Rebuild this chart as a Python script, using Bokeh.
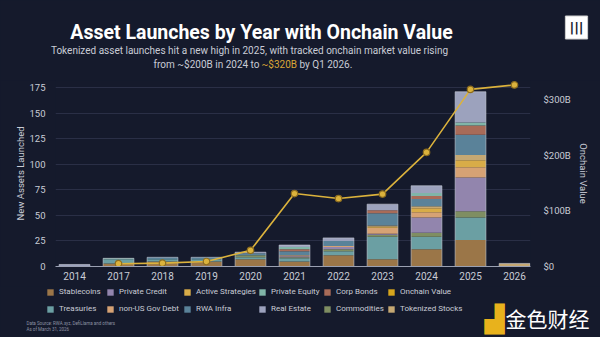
from bokeh.plotting import figure
from bokeh.layouts import column
from bokeh.models import (Range1d, LinearAxis, FixedTicker, Label, Legend,
                          LegendItem, ColumnDataSource)
from bokeh.embed import file_html
from bokeh.resources import INLINE

# ---- data -------------------------------------------------------------
years = ["2014", "2017", "2018", "2019", "2020", "2021", "2022", "2023", "2024", "2025", "2026"]

# new tokenized assets launched per year, by category (stack order bottom -> top)
stablecoins       = [0, 3, 5, 5, 7, 5, 11, 7, 17, 26, 0]
treasuries        = [0, 4, 2, 2, 2, 3, 4, 22, 12, 22, 0]
commodities       = [0, 0, 0, 0, 2, 1, 2, 2, 4, 6, 0]
private_credit    = [0, 0, 0, 0, 0, 1, 2, 1, 15, 33, 0]
non_us_gov_debt   = [0, 0, 0, 0, 0, 1, 1, 6, 5, 10, 0]
active_strategies = [0, 0, 0, 0, 0, 0, 0, 1, 4, 7, 0]
tokenized_stocks  = [0, 0, 0, 0, 0, 0, 0, 1, 2, 5, 3]
rwa_infra         = [0, 0, 2, 2, 2, 4, 5, 12, 7, 20, 0]
corp_bonds        = [0, 0, 0, 0, 0, 2, 0, 3, 3, 9, 0]
private_equity    = [0, 1, 0, 0, 0, 2, 0, 0, 3, 3, 0]
real_estate       = [2, 0, 0, 0, 1, 2, 3, 6, 7, 30, 0]

# tracked onchain market value, $B (series starts in 2017)
onchain_years = years[1:]
onchain_value_b = [5, 6, 9, 29, 131, 122, 130, 205, 318, 326]

left_ticks = [0, 25, 50, 75, 100, 125, 150, 175]
right_ticks = [0, 100, 200, 300]
right_tick_labels = ["$0", "$100B", "$200B", "$300B"]

series = [
    ("Stablecoins", stablecoins, "#9b7648"),
    ("Treasuries", treasuries, "#6b9fa3"),
    ("Commodities", commodities, "#7f8e62"),
    ("Private Credit", private_credit, "#9285ad"),
    ("non-US Gov Debt", non_us_gov_debt, "#d6a274"),
    ("Active Strategies", active_strategies, "#d8ac48"),
    ("Tokenized Stocks", tokenized_stocks, "#c5a873"),
    ("RWA Infra", rwa_infra, "#5a8299"),
    ("Corp Bonds", corp_bonds, "#a86b58"),
    ("Private Equity", private_equity, "#80b5a8"),
    ("Real Estate", real_estate, "#9ca2bd"),
]
onchain_color = "#d6a51c"
line_color = "#dbb23c"

# ---- styling constants ----------------------------------------------
BG = "#151a2c"
TXT = "#c9ccd6"
SANS = "Roboto"
W = 600
HEAD_H, MAIN_H, FOOT_H = 80, 206, 51


def panel(h):
    f = figure(width=W, height=h, output_backend="svg", toolbar_location=None,
               title=None, x_axis_type=None, y_axis_type=None,
               x_range=Range1d(0, W), y_range=Range1d(0, h),
               min_border=0, min_border_left=0, min_border_right=0,
               min_border_top=0, min_border_bottom=0)
    f.frame_align = False
    f.grid.visible = False
    f.background_fill_color = BG
    f.border_fill_color = BG
    f.outline_line_color = None
    return f


def text(f, h, s, cx, cy, size, color=TXT, font=SANS, align="left", style="normal", **kw):
    f.add_layout(Label(x=cx, y=h - cy, x_units="screen", y_units="screen",
                       text=s, text_font=font, text_font_size=size, text_color=color,
                       text_align=align, text_baseline="alphabetic",
                       text_font_style=style, **kw))


# ---- header -------------------------------------------------------------
head = panel(HEAD_H)
text(head, HEAD_H, "Asset Launches by Year with Onchain Value", 261, 32, "19.5px",
     color="#ffffff", align="center", style="bold")
text(head, HEAD_H,
     "Tokenized asset launches hit a new high in 2025, with tracked onchain market value rising",
     249, 50, "10px", align="center")
text(head, HEAD_H, "from ~$200B in 2024 to", 153, 64, "10px")
text(head, HEAD_H, "~$320B", 261, 64, "10px", color="#d9a637")
text(head, HEAD_H, "by Q1 2026.", 299, 64, "10px")
text(head, HEAD_H, "|||", 576, 27, "13px", color=BG, font="DejaVu Sans", align="center",
     style="bold", background_fill_color="#ffffff", border_line_color="#d0d0d0",
     padding=4)

# ---- chart --------------------------------------------------------------
xs = list(range(len(years)))
data = {"x": xs}
for name, vals, _ in series:
    data[name] = vals
data["total"] = [sum(v[i] for _, v, _ in series) for i in range(len(years))]
source = ColumnDataSource(data)

p = figure(width=W, height=MAIN_H, output_backend="svg", toolbar_location=None,
           x_range=Range1d(-0.432, 10.363), y_range=Range1d(0, 182),
           min_border_left=55, min_border_right=70, min_border_top=0,
           min_border_bottom=20)
p.background_fill_color = BG
p.border_fill_color = BG
p.outline_line_color = None

bar_w = 0.7
names = [s[0] for s in series]
p.vbar_stack(names, x="x", width=bar_w, color=[s[2] for s in series],
             line_color=None, source=source)
p.vbar(x="x", top="total", width=bar_w, source=source, fill_color=None,
       line_color="#cfd3de", line_alpha=0.55, line_width=1)

# onchain value line on a secondary axis
p.extra_y_ranges = {"value": Range1d(0, 334)}
ox = [years.index(y) for y in onchain_years]
p.line(ox, onchain_value_b, y_range_name="value", color=line_color, line_width=1.6)
p.scatter(ox, onchain_value_b, y_range_name="value", size=6.5,
          fill_color=line_color, line_color="#8d6d1f", line_width=1.2)

p.xaxis.ticker = FixedTicker(ticks=xs)
p.xaxis.major_label_overrides = {i: y for i, y in enumerate(years)}
p.xaxis.axis_line_color = "#9aa0b2"
p.xaxis.axis_line_width = 1.2
p.xaxis.major_tick_line_color = None
p.xaxis.minor_tick_line_color = None
p.xaxis.major_tick_out = 0
p.xaxis.major_label_standoff = 5
p.xaxis.major_label_text_font = SANS
p.xaxis.major_label_text_font_size = "10px"
p.xaxis.major_label_text_color = TXT

p.yaxis.ticker = FixedTicker(ticks=left_ticks)
p.yaxis.axis_line_color = None
p.yaxis.major_tick_line_color = None
p.yaxis.minor_tick_line_color = None
p.yaxis.major_tick_out = 0
p.yaxis.major_label_standoff = 10
p.yaxis.major_label_text_font = SANS
p.yaxis.major_label_text_font_size = "9.5px"
p.yaxis.major_label_text_color = TXT
p.yaxis.axis_label = "New Assets Launched"
p.yaxis.axis_label_text_font = SANS
p.yaxis.axis_label_text_font_style = "normal"
p.yaxis.axis_label_text_font_size = "9.5px"
p.yaxis.axis_label_text_color = TXT
p.yaxis.axis_label_standoff = 0

ry = LinearAxis(y_range_name="value", ticker=FixedTicker(ticks=right_ticks),
                major_label_overrides=dict(zip(right_ticks, right_tick_labels)),
                axis_label="Onchain Value")
ry.axis_line_color = None
ry.major_tick_line_color = None
ry.minor_tick_line_color = None
ry.major_tick_out = 0
ry.major_label_standoff = 13
ry.major_label_text_font = SANS
ry.major_label_text_font_size = "9.5px"
ry.major_label_text_color = TXT
ry.axis_label_text_font = SANS
ry.axis_label_text_font_style = "normal"
ry.axis_label_text_font_size = "9.5px"
ry.axis_label_text_color = TXT
ry.axis_label_standoff = 4
p.add_layout(ry, "right")

p.xgrid.visible = False
p.ygrid.ticker = FixedTicker(ticks=left_ticks[1:])
p.ygrid.grid_line_color = "#2a2f46"
p.ygrid.grid_line_width = 1

# ---- footer: legend, source note, watermark ---------------------------
foot = panel(FOOT_H)
# zero-size swatch renderers that carry each legend entry's fill
swatches = {name: foot.vbar(x=[0], top=[0], width=0, fill_color=color, line_color=None)
            for name, _, color in series}
swatches["Onchain Value"] = foot.vbar(x=[0], top=[0], width=0, fill_color=onchain_color,
                                      line_color=None)
legend_cols = [
    ("Stablecoins", "Treasuries", 46),
    ("Private Credit", "non-US Gov Debt", 106),
    ("Active Strategies", "RWA Infra", 183),
    ("Private Equity", "Real Estate", 258),
    ("Corp Bonds", "Commodities", 323),
    ("Onchain Value", "Tokenized Stocks", 387),
]
for top_name, bottom_name, cx in legend_cols:
    lg = Legend(items=[LegendItem(label=top_name, renderers=[swatches[top_name]]),
                       LegendItem(label=bottom_name, renderers=[swatches[bottom_name]])],
                location=(cx, FOOT_H - 27), orientation="vertical",
                glyph_width=8, glyph_height=8, label_height=8, spacing=8,
                padding=0, margin=0, label_standoff=5,
                background_fill_alpha=0, border_line_color=None,
                label_text_font=SANS, label_text_font_size="8px",
                label_text_color=TXT, label_text_baseline="middle")
    foot.add_layout(lg)

text(foot, FOOT_H, "Data Source: RWA.xyz, DefiLlama and others", 26, 37, "4.5px",
     color="#8d92a3")
text(foot, FOOT_H, "As of March 31, 2026", 26, 43, "4.5px", color="#8d92a3")
text(foot, FOOT_H, "\u259F", 494, 32, "26px", color="#e8b21c", font="DejaVu Sans",
     align="center")
text(foot, FOOT_H, "金色财经", 505, 31, "21px", color="#ffffff", font="Noto Sans CJK SC")

layout = column(head, p, foot, spacing=0)
layout.styles = {"background-color": BG}
open("out.html", "w").write(file_html(layout, INLINE))
